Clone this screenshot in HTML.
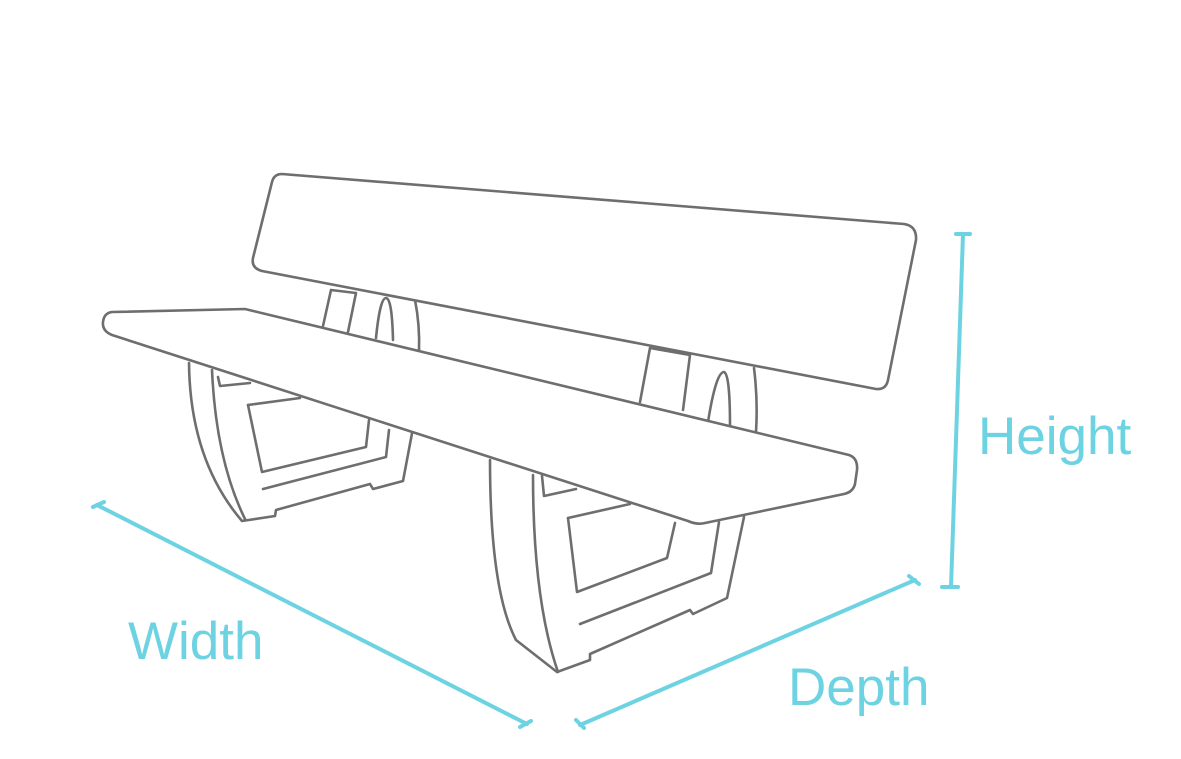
<!DOCTYPE html>
<html><head><style>
html,body{margin:0;padding:0;background:#fff;}
svg{display:block}
text{font-family:"Liberation Sans",sans-serif;fill:#6dd3e2;font-size:53px}
</style></head><body>
<svg width="1181" height="759" viewBox="0 0 1181 759" xmlns="http://www.w3.org/2000/svg">
<g fill="none" stroke="#6e6e6e" stroke-width="2.6" stroke-linejoin="round" stroke-linecap="round">
<path d="M331,290 L356,293 M331,290 L323,326 M356,293 L348,332"/>
<path d="M376,338 Q380,298 386,298 Q392,298 393,340"/>
<path d="M415,300 Q420,325 419,352"/>
<path d="M650,348 L690,355 M650,348 L640,402 M690,355 L683,410"/>
<path d="M708,422 Q716,372 724,372 Q730,374 730,426"/>
<path d="M754,368 Q758,400 756,432"/>
<path fill="#fff" d="M282,174 L904,224 Q917,226 916,240 L888,380 Q886,390 876,389 L262,271 Q251,268 253,258 L272,182 Q274,174 282,174 Z"/>
<path d="M189,363 Q190,460 242,521 L275,516 L276,510 L370,484 L373,489 L403,481 L413,428"/>
<path d="M212,370 Q216,460 245,519"/>
<path d="M248,405 L262,472 L366,447 L369,420"/>
<path d="M248,405 L300,398"/>
<path d="M263,489 L386,457 L389,430"/>
<path d="M218,377 L220,386 L250,383"/>
<path d="M490,460 Q490,590 516,640 L557,672 L590,660 L590,654 L690,610 L693,614 L727,598 L744,517"/>
<path d="M533,475 Q533,600 558,672"/>
<path d="M568,518 L577,592 L667,558 L675,523"/>
<path d="M568,518 L630,504"/>
<path d="M580,624 L711,573 L719,522"/>
<path d="M542,476 L544,496 L576,489"/>
<path fill="#fff" d="M112,312 L245,309 L849,455 Q858,458 857,470 L855,484 Q853,492 844,494 L705,523 Q697,525 688,521 L112,335 Q102,331 103,322 Q104,313 112,312 Z"/>
</g>
<g fill="none" stroke="#6dd3e2" stroke-width="4" stroke-linecap="round">
<path d="M97,505 L527,724"/>
<path d="M93,507 L104,502 M520,727 L531,721"/>
<path d="M580,725 L915,580"/>
<path d="M576,720 L584,728 M909,576 L919,584"/>
<path d="M963,234 L951,587"/>
<path d="M956,234 L970,234 M942,587 L958,587"/>
</g>
<text x="128" y="659">Width</text>
<text x="978" y="454">Height</text>
<text x="788" y="705">Depth</text>
</svg>
</body></html>
